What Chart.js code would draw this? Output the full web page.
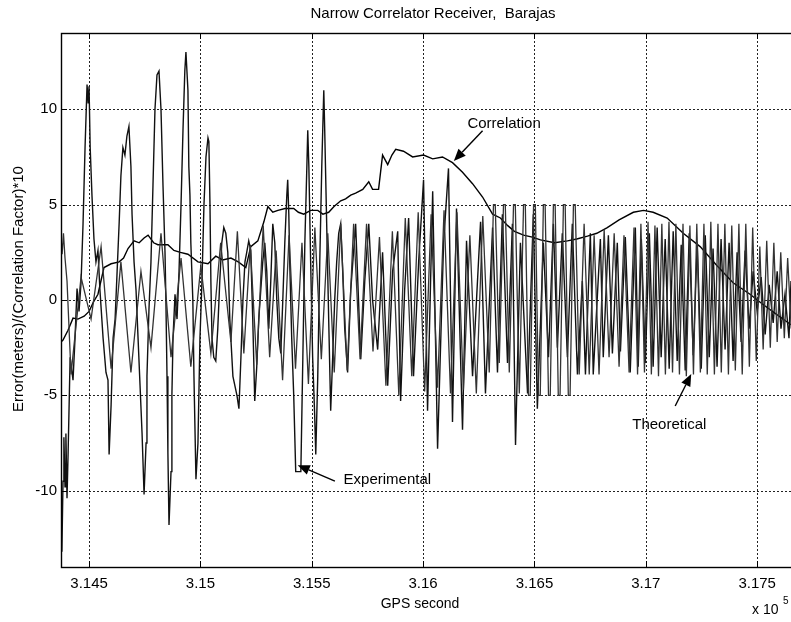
<!DOCTYPE html>
<html><head><meta charset="utf-8">
<script src="https://cdn.jsdelivr.net/npm/chart.js@4.4.1/dist/chart.umd.min.js"></script>
<style>html,body{margin:0;padding:0;background:#fff;}canvas{display:block;}</style>
</head><body>
<canvas id="c" width="791" height="622"></canvas>
<script>
// ---- axis ticks ----
const xTickValues = [314500, 315000, 315500, 316000, 316500, 317000, 317500];
const xTickLabels = ['3.145', '3.15', '3.155', '3.16', '3.165', '3.17', '3.175'];
const yTickValues = [-10, -5, 0, 5, 10];
const yTickLabels = ['-10', '-5', '0', '5', '10'];

// ---- Correlation (x10) ----
const corrX = [314374, 314383, 314405, 314428, 314450, 314478, 314500, 314520, 314540, 314567,
  314599, 314635, 314655, 314675, 314702, 314725, 314747, 314765, 314790, 314809,
  314854, 314881, 314910, 314944, 314989, 315034, 315069, 315100, 315137, 315170,
  315204, 315226, 315258, 315285, 315303, 315325, 315348, 315380, 315419, 315440,
  315464, 315495, 315527, 315550, 315576, 315600, 315630, 315652, 315675, 315697,
  315729, 315756, 315773, 315800, 315818, 315841, 315860, 315877, 315912, 315953,
  316002, 316043, 316087, 316132, 316177, 316222, 316267, 316312, 316347, 316380,
  316410, 316451, 316490, 316527, 316590, 316648, 316690, 316738, 316780, 316827,
  316880, 316944, 316990, 317033, 317096, 317168, 317244, 317320, 317392, 317468,
  317522, 317581, 317652];
const corrY = [-2.2, -2.1, -1.6, -0.95, -1.0, -0.85, -0.6, -0.1, 0.3, 1.7,
  1.9, 2.0, 2.2, 2.7, 3.1, 3.0, 3.25, 3.4, 3.0, 2.9,
  2.9, 2.6, 2.5, 2.4, 2.0, 1.9, 2.3, 2.1, 2.2, 2.0,
  1.7, 2.8, 3.1, 4.1, 4.9, 4.6, 4.7, 4.8, 4.8, 4.6,
  4.5, 4.7, 4.7, 4.5, 4.6, 4.9, 5.2, 5.3, 5.5, 5.6,
  5.8, 6.2, 5.8, 5.8, 7.6, 7.1, 7.6, 7.9, 7.8, 7.5,
  7.6, 7.4, 7.5, 7.2, 6.7, 6.1, 5.4, 4.5, 4.3, 3.9,
  3.6, 3.4, 3.3, 3.15, 3.0, 3.1, 3.2, 3.35, 3.5, 3.8,
  4.2, 4.6, 4.7, 4.6, 4.3, 3.5, 2.8, 1.8, 0.9, 0.3,
  -0.2, -0.7, -1.3];

// ---- Experimental error ----
const expX = [314374, 314378, 314383, 314387, 314392, 314396, 314401, 314406, 314415, 314428,
  314437, 314446, 314455, 314464,
  314473, 314482, 314491, 314496, 314500, 314505, 314513, 314522, 314531, 314540,
  314549, 314563, 314576, 314585, 314590, 314599, 314608, 314617, 314626, 314635,
  314643, 314652, 314661, 314670, 314679, 314688, 314693, 314702, 314711, 314720,
  314729, 314738, 314747, 314756, 314760, 314769, 314778, 314787, 314796, 314805,
  314814, 314823, 314832, 314841, 314845, 314850, 314854, 314859, 314868, 314872,
  314877, 314886, 314895, 314904, 314913, 314922, 314930, 314935, 314944, 314948,
  314953, 314957, 314966, 314971, 314980, 314989, 314998, 315007, 315016, 315025,
  315034, 315038, 315043, 315047, 315052, 315060, 315069, 315078, 315087, 315096,
  315105, 315114, 315123, 315132, 315146, 315155, 315164, 315173, 315182, 315191,
  315200, 315208, 315217, 315226, 315235, 315244, 315253, 315262, 315271, 315280,
  315289, 315298, 315307, 315316, 315325, 315334, 315343, 315352, 315361, 315370,
  315379, 315388, 315392, 315397, 315401, 315410, 315419, 315428, 315451, 315460,
  315469, 315478, 315482, 315487, 315495, 315504, 315513, 315518, 315527, 315536,
  315545, 315554, 315558, 315567, 315576, 315585, 315594, 315603, 315612, 315621,
  315630, 315639, 315648, 315661, 315675, 315697, 315720, 315738, 315756, 315773,
  315796, 315818, 315841, 315863, 315886, 315899, 315917, 315935, 315957, 315980,
  316002, 316020, 316043, 316065, 316092, 316114, 316132, 316150, 316177, 316195,
  316222, 316258, 316280, 316312, 316334, 316356, 316379, 316401, 316415, 316437,
  316469, 316495, 316513, 316540, 316563, 316585, 316603, 316625, 316648, 316670,
  316693, 316715, 316729, 316751, 316764, 316796, 316809, 316832, 316850, 316872,
  316886, 316908, 316930, 316953, 316966, 316980, 316998, 317016, 317033, 317051,
  317069, 317087, 317105, 317123, 317141, 317159, 317177, 317195, 317213, 317231,
  317249, 317267, 317285, 317302, 317320, 317338, 317356, 317374, 317392, 317410,
  317428, 317446, 317464, 317482, 317500, 317518, 317536, 317554, 317572, 317590,
  317607, 317625, 317643, 317652];
const expY = [-12.5, -13.2, -9.5, -7.2, -9.8, -7.0, -10.4, -8.0, -3.0, -4.2,
  -2.0, 0.6, -0.6, 0.9,
  4.0, 8.0, 11.3, 10.3, 11.2, 8.0, 5.5, 3.2, 2.0, 2.6,
  0.5, -2.0, -3.8, -4.2, -8.1, -5.5, -2.0, -1.0, 1.5, 4.0,
  6.5, 8.0, 7.6, 8.6, 9.1, 7.0, 4.5, 2.0, 0.5, -2.0,
  -4.5, -7.0, -10.2, -7.5, -4.0, -0.5, 2.0, 6.0, 10.0, 11.8,
  12.0, 10.0, 6.0, 2.5, 0.0, -4.0, -8.0, -11.8, -9.0, -5.0,
  -2.0, 0.3, -1.0, 1.5, 5.0, 9.0, 12.0, 13.0, 11.0, 7.0,
  5.5, 3.0, 0.0, -4.0, -9.4, -7.5, -2.0, 1.0, 5.0, 7.5,
  8.5, 8.3, 5.0, 1.0, -2.0, -3.0, -3.2, -1.5, 1.0, 3.0,
  3.8, 3.5, 2.5, -1.0, -4.0, -4.5, -5.0, -5.7, -3.0, 0.0,
  2.0, 2.5, 3.1, 2.6, -1.0, -5.3, -3.5, -1.0, 0.5, 2.0,
  3.0, 1.5, -1.5, 1.0, 4.0, 3.0, 0.0, -2.0, -2.8, 0.0,
  3.0, 5.5, 6.3, 4.5, 2.0, -2.0, -5.0, -9.0, -9.0, -3.0,
  3.0, 7.0, 8.9, 7.0, 2.0, -3.0, -6.0, -8.1, -4.0, 2.0,
  7.0, 11.0, 9.0, 4.0, -1.0, -5.8, -3.0, 0.0, 2.0, 3.5,
  4.0, 1.5, -1.5, -3.8, 0.5, 4.0, -3.1, 1.0, 4.0, 0.0,
  -2.6, 2.5, -4.5, 1.5, 3.6, -5.3, 0.5, 4.3, -4.0, 2.0,
  6.3, -5.8, 5.7, -7.8, 3.0, 6.9, -6.4, 4.8, -6.8, 3.1,
  -4.0, 4.1, -4.9, 3.8, -3.8, 4.5, -3.3, 4.0, -7.6, 3.0,
  -4.9, 4.5, -5.7, 3.0, -3.0, 4.0, -2.5, 3.5, -3.0, 4.0,
  -3.9, 1.0, -3.9, 3.5, -3.9, 3.2, -3.0, 3.4, -2.8, 3.0,
  -2.7, 3.3, -3.8, 3.8, -3.5, 3.2, -3.3, 3.5, -3.5, 3.8,
  -3.0, 3.2, -3.6, 3.6, -3.2, 2.9, -3.7, 3.5, -2.9, 3.0,
  -3.6, 3.4, -3.0, 2.7, -3.5, 3.2, -2.6, 3.0, -3.2, 2.5,
  -2.2, 2.6, -1.5, 1.5, -0.6, 1.2, -1.8, 0.8, -1.2, 1.5,
  -1.5, 0.3, -2.0, 1.0];

// ---- Theoretical error ----
const theoX = [314374, 314379, 314385, 314392, 314401,
  314419, 314464, 314509, 314554, 314599, 314643, 314688, 314733, 314778,
  314823, 314868, 314913, 314957, 315002, 315047, 315091, 315137,
  315166, 315195, 315224, 315253, 315282, 315311, 315340, 315369, 315398, 315427,
  315456, 315485, 315514, 315543, 315572, 315601, 315630, 315659, 315688, 315717,
  315746, 315775, 315804, 315833, 315862, 315891, 315920, 315949, 315978, 316007,
  316036, 316065, 316094, 316123, 316152, 316181, 316210, 316239, 316268, 316297,
  316316, 316324, 316342, 316361, 316369, 316387, 316406, 316414, 316432, 316451,
  316459, 316473, 316481, 316496, 316504, 316518, 316526, 316540, 316548, 316563,
  316571, 316585, 316593, 316607, 316615, 316630, 316638, 316652, 316660, 316675,
  316683, 316701, 316723, 316746, 316768, 316790, 316813, 316835, 316858, 316880,
  316902, 316925, 316947,
  316963, 316978, 316994, 317010, 317025, 317041, 317057, 317072, 317088, 317104,
  317120, 317135, 317151, 317167, 317182, 317198, 317214, 317229, 317245, 317261,
  317276, 317292, 317308, 317324, 317339, 317355, 317371, 317386, 317402, 317418,
  317433, 317449, 317465, 317480, 317496, 317512, 317527, 317543, 317559, 317575,
  317590, 317606, 317622, 317637, 317653];
const theoY = [3.3, 2.4, 3.5, 2.2, 1.0,
  -3.9, 1.2, -1.0, 2.8, -3.6, 2.0, -3.8, 1.5, -2.5,
  3.5, -3.0, 2.2, -3.5, 1.8, -2.8, 3.0, -2.2,
  3.6, -2.8, 2.9, -3.4, 3.9, -3.0, 2.6, -4.2, 3.4, -3.6,
  3.0, -4.4, 3.8, -3.1, 3.5, -3.8, 4.0, -3.7, 4.0, -3.1,
  4.0, -2.7, 3.3, -4.5, 3.6, -5.0, 4.3, -4.0, 4.6, -4.8,
  4.5, -4.6, 4.7, -4.9, 4.6, -4.7, 3.4, -4.9, 4.4, -3.8,
  5, 5, -3.3, 5, 5, -3.8, 5, 5, -4.9, 5,
  5, -5, -5, 5, 5, -5, -5, 5, 5, -5,
  -5, 5, 5, -5, -5, 5, 5, -5, -5, 5,
  5, -3.9, 4.0, -3.9, 3.4, -3.9, 3.7, -3.0, 3.5, -3.5,
  3.4, -3.8, 3.8,
  -3.9, 4.0, -3.8, 4.1, -3.9, 3.9, -4.0, 4.0, -3.9, 4.1,
  -3.8, 4.0, -3.9, 4.0, -4.0, 3.9, -3.9, 4.0, -3.8, 4.0,
  -3.9, 4.1, -3.9, 4.0, -3.8, 4.0, -3.9, 3.9, -3.7, 4.0,
  -3.9, 4.0, -3.5, 3.8, -3.2, 2.8, -2.6, 3.1, -2.5, 3.0,
  -2.2, 2.5, -2.0, 2.2, -1.5];

// ---- annotation anchors (data coordinates) ----
const notes = [
  {text: 'Correlation', tx: 316199, ty: 9.23, fromX: 316267, fromY: 8.87, toX: 316138, toY: 7.29},
  {text: 'Experimental', tx: 315643, ty: -9.44, fromX: 315604, fromY: -9.5, toX: 315437, toY: -8.66},
  {text: 'Theoretical', tx: 316939, ty: -6.56, fromX: 317132, fromY: -5.56, toX: 317204, toY: -3.88}
];

const FONT = "'Liberation Sans', Arial, Helvetica, sans-serif";
function pairs(xs, ys) {
  const n = Math.min(xs.length, ys.length), out = [];
  for (let i = 0; i < n; i++) out.push({x: xs[i], y: ys[i]});
  return out;
}

const decor = {
  id: 'decor',
  beforeDatasetsDraw(chart) {
    const {ctx, chartArea: a, scales: {x, y}} = chart;
    ctx.save();
    ctx.strokeStyle = '#222';
    ctx.lineWidth = 1;
    ctx.setLineDash([2, 2]);
    xTickValues.forEach(v => {
      const px = Math.round(x.getPixelForValue(v)) + 0.5;
      ctx.beginPath(); ctx.moveTo(px, a.top); ctx.lineTo(px, a.bottom); ctx.stroke();
    });
    yTickValues.forEach(v => {
      const py = Math.round(y.getPixelForValue(v)) + 0.5;
      ctx.beginPath(); ctx.moveTo(a.left, py); ctx.lineTo(a.right, py); ctx.stroke();
    });
    ctx.restore();
  },
  afterDatasetsDraw(chart) {
    const {ctx, chartArea: a, scales: {x, y}} = chart;
    ctx.save();
    ctx.setLineDash([]);
    ctx.strokeStyle = '#000';
    ctx.lineWidth = 1.4;
    ctx.strokeRect(Math.round(a.left) + 0.5, Math.round(a.top) + 0.5, a.right - a.left + 2, a.bottom - a.top);
    ctx.lineWidth = 1;
    xTickValues.forEach(v => {
      const px = Math.round(x.getPixelForValue(v)) + 0.5;
      ctx.beginPath(); ctx.moveTo(px, a.bottom); ctx.lineTo(px, a.bottom - 6); ctx.stroke();
      ctx.beginPath(); ctx.moveTo(px, a.top); ctx.lineTo(px, a.top + 6); ctx.stroke();
    });
    yTickValues.forEach(v => {
      const py = Math.round(y.getPixelForValue(v)) + 0.5;
      ctx.beginPath(); ctx.moveTo(a.left, py); ctx.lineTo(a.left + 6, py); ctx.stroke();
    });
    ctx.fillStyle = '#000';
    ctx.font = '15px ' + FONT;
    ctx.textAlign = 'left';
    ctx.textBaseline = 'middle';
    notes.forEach(n => {
      ctx.fillText(n.text, x.getPixelForValue(n.tx), y.getPixelForValue(n.ty));
      const x1 = x.getPixelForValue(n.fromX), y1 = y.getPixelForValue(n.fromY);
      const x2 = x.getPixelForValue(n.toX), y2 = y.getPixelForValue(n.toY);
      const ang = Math.atan2(y2 - y1, x2 - x1);
      const L = 12, W = 5;
      const bx = x2 - L * Math.cos(ang), by = y2 - L * Math.sin(ang);
      ctx.lineWidth = 1.4;
      ctx.beginPath(); ctx.moveTo(x1, y1); ctx.lineTo(bx, by); ctx.stroke();
      ctx.beginPath();
      ctx.moveTo(x2, y2);
      ctx.lineTo(bx + W * Math.sin(ang), by - W * Math.cos(ang));
      ctx.lineTo(bx - W * Math.sin(ang), by + W * Math.cos(ang));
      ctx.closePath(); ctx.fill();
    });
    ctx.restore();
  },
  afterDraw(chart) {
    const ctx = chart.ctx;
    ctx.save();
    ctx.fillStyle = '#000';
    ctx.textBaseline = 'middle';
    ctx.textAlign = 'center';
    ctx.font = '15px ' + FONT;
    ctx.fillText('Narrow Correlator Receiver,  Barajas', 433, 14);
    ctx.font = '14px ' + FONT;
    ctx.fillText('GPS second', 420, 604);
    ctx.textAlign = 'left';
    ctx.fillText('x 10', 752, 610);
    ctx.font = '10px ' + FONT;
    ctx.fillText('5', 783, 601);
    ctx.translate(19, 289);
    ctx.rotate(-Math.PI / 2);
    ctx.textAlign = 'center';
    ctx.font = '15px ' + FONT;
    ctx.fillText('Error(meters)/(Correlation Factor)*10', 0, 0);
    ctx.restore();
  }
};

new Chart(document.getElementById('c'), {
  type: 'line',
  data: {
    datasets: [
      {label: 'Theoretical', data: pairs(theoX, theoY), borderColor: '#333', borderWidth: 1.3, pointRadius: 0, tension: 0, fill: false},
      {label: 'Experimental', data: pairs(expX, expY), borderColor: '#111', borderWidth: 1.4, pointRadius: 0, tension: 0, fill: false},
      {label: 'Correlation', data: pairs(corrX, corrY), borderColor: '#000', borderWidth: 1.4, pointRadius: 0, tension: 0, fill: false}
    ]
  },
  options: {
    responsive: false,
    animation: false,
    devicePixelRatio: 1,
    layout: {padding: {top: 33, left: 0, right: 0, bottom: 0}},
    plugins: {legend: {display: false}, title: {display: false}, tooltip: {enabled: false}},
    scales: {
      x: {
        type: 'linear', min: 314374, max: 317652,
        afterBuildTicks: s => { s.ticks = xTickValues.map(v => ({value: v})); },
        afterFit: s => { s.height = 55; },
        grid: {display: false, drawTicks: false},
        border: {display: false},
        ticks: {
          autoSkip: false, maxRotation: 0, minRotation: 0, padding: 8, color: '#000',
          font: {family: FONT, size: 15},
          callback: (v) => { const i = xTickValues.indexOf(v); return i >= 0 ? xTickLabels[i] : ''; }
        }
      },
      y: {
        type: 'linear', min: -14, max: 14,
        afterBuildTicks: s => { s.ticks = yTickValues.map(v => ({value: v})); },
        afterFit: s => { s.width = 61; },
        grid: {display: false, drawTicks: false},
        border: {display: false},
        ticks: {
          padding: 4, color: '#000',
          font: {family: FONT, size: 15},
          callback: (v) => { const i = yTickValues.indexOf(v); return i >= 0 ? yTickLabels[i] : ''; }
        }
      }
    }
  },
  plugins: [decor]
});
</script>
</body></html>
